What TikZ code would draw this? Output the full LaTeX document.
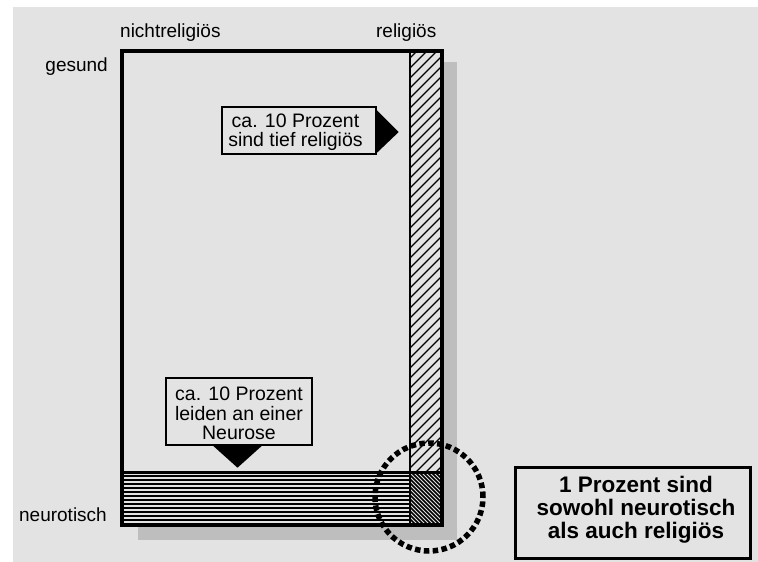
\documentclass[tikz,border=0pt]{standalone}
\usepackage{fontspec}
\setmainfont{Liberation Sans}
\definecolor{panel}{HTML}{E3E3E3}
\definecolor{shadowgray}{HTML}{BEBEBE}

\tikzset{
  axislabel/.style={inner sep=0pt, font=\fontsize{19}{20}\selectfont},
  notebox/.style={draw, line width=1.4pt, fill=panel, inner sep=0pt},
  notetext/.style={inner sep=0pt, align=center, font=\fontsize{19.5}{19.7}\selectfont},
  summarybox/.style={draw, line width=3pt, fill=panel, inner sep=0pt},
  summarytext/.style={inner sep=0pt, align=center, font=\fontsize{22.5}{23.2}\selectfont\bfseries},
  dashedring/.style={line width=5.5pt, dash pattern=on 5.5pt off 3.4pt},
  hatchline/.style={line width=1.2pt},
  bandline/.style={line width=2.3pt},
  denseline/.style={line width=1.5pt},
}

\begin{document}
\begin{tikzpicture}[x=1pt,y=-1pt]
  % page and panel
  \useasboundingbox (0,0) rectangle (758,562);
  \fill[white] (0,0) rectangle (758,562);
  \fill[panel] (13,7) rectangle (758,562);

  % drop shadow behind the grid
  \fill[shadowgray] (138,62) rectangle (457,540);

  % the grid body
  \fill[panel] (122,51) rectangle (442,525);

  % religious column, hatched
  \begin{scope}
    \clip (410,51) rectangle (442,472);
    \foreach \x in {-14,-4,...,446}
      \draw[hatchline] (\x,472) -- ++(421,-421);
  \end{scope}
  % neurotic band, horizontal rules
  \foreach \y in {476,480,...,522}
    \draw[bandline] (122,\y) -- (410,\y);
  % overlap cell, dense hatching
  \begin{scope}
    \clip (410,472) rectangle (442,525);
    \foreach \x in {355,359,...,446}
      \draw[denseline] (\x,472) -- ++(53,53);
  \end{scope}

  % dividers and frame
  \draw[line width=2.5pt] (410,51) -- (410,525);
  \draw[line width=3pt] (122,472) -- (442,472);
  \draw[line width=3.5pt] (122,51) rectangle (442,525);

  % axis labels
  \node[axislabel, anchor=base west] (nrel) at (120,37.5) {nichtreligiös};
  \node[axislabel, anchor=base east] (rel) at (436.5,37.5) {religiös};
  \node[axislabel, anchor=base east] (ges) at (108,71.5) {gesund};
  \node[axislabel, anchor=base east] (neu) at (107,521.5) {neurotisch};

  % note on the religious share
  \node[notebox, minimum width=154pt, minimum height=47pt] (boxrel) at (299,130.5) {};
  \node[notetext] (txtrel) at (295.5,132.2) {ca. 10 Prozent\\sind tief religiös};
  \fill (boxrel.east) ++(0,-20.5) -- ++(22,22) -- ++(-22,21) -- cycle;

  % note on the neurotic share
  \node[notebox, minimum width=146pt, minimum height=67pt] (boxneu) at (239,411.5) {};
  \node[notetext] (txtneu) at (239,413.4) {ca. 10 Prozent\\leiden an einer\\Neurose};
  \fill (boxneu.south) ++(-26,0) -- ++(49,0) -- ++(-24.5,22) -- cycle;

  % ring round the overlap cell
  \coordinate (ring) at (429,497);
  \draw[dashedring] (ring) circle[radius=54pt];

  % summary
  \node[summarybox, minimum width=235pt, minimum height=91pt] (summary) at (632.5,512.5) {};
  \node[summarytext] (summarytxt) at (636,510) {1 Prozent sind\\sowohl neurotisch\\als auch religiös};
\end{tikzpicture}
\end{document}
